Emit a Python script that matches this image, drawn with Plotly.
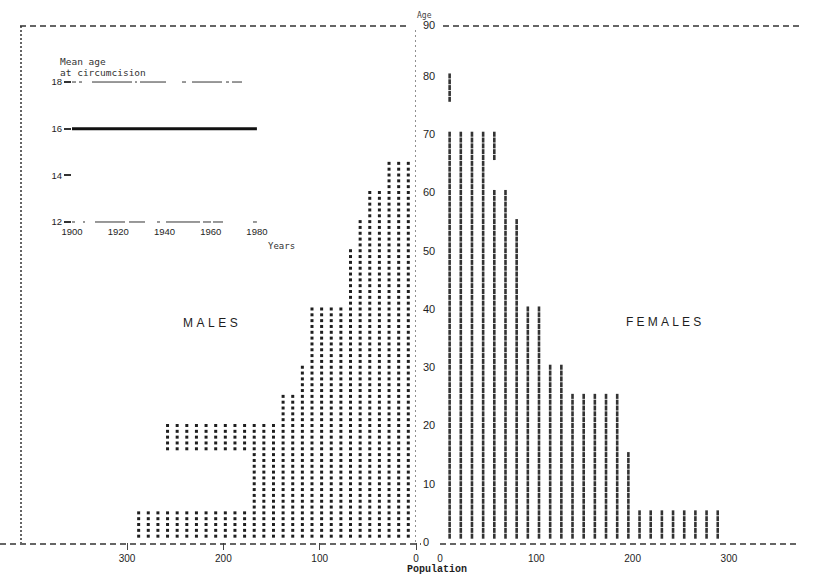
import plotly.graph_objects as go

# ---------------- data ----------------
group_start = [0, 5, 10, 15, 20, 25, 30, 35, 40, 45, 50, 55, 60, 65, 70, 75]
male_pop = [290, 170, 170, 260, 140, 120, 110, 110, 70, 70, 60, 50, 30, 0, 0, 0]
female_pop = [290, 200, 200, 195, 190, 130, 110, 105, 90, 90, 80, 70, 50, 65, 0, 20]

pop_ticks = [0, 100, 200, 300]
age_ticks = [0, 10, 20, 30, 40, 50, 60, 70, 80]
age_top_label = "90"

inset_years = [1900, 1920, 1940, 1960, 1980]
inset_mean_age = [16, 16, 16, 16, 16]
inset_age_ticks = [12, 14, 16, 18]

W, H = 832, 584
INK = "#1e1e1e"


def fx(px):
    return px / W


def fy(py):
    return 1 - py / H


# male dots: one row per single year of age, one dot per 10 persons
mx, my = [], []
for s, v in zip(group_start, male_pop):
    for a in range(s, s + 5):
        for k in range(1, v // 10 + 1):
            mx.append(10 * k - 2)
            my.append(a + 1)

# female strokes: one row per single year of age, printed columns of strokes
FSTEP = 11.6
fxs, fys = [], []
for s, v in zip(group_start, female_pop):
    for a in range(s, s + 5):
        k = 0
        while 10 + FSTEP * k <= v:
            fxs.append(10 + FSTEP * k)
            fys.append(a + 1)
            k += 1

fig = go.Figure()

fig.add_trace(go.Scatter(
    x=mx, y=my, mode="markers", xaxis="x", yaxis="y",
    marker=dict(symbol="square", size=3, color=INK, line=dict(width=0)),
    hoverinfo="skip",
))

fig.add_trace(go.Scatter(
    x=fxs, y=fys, mode="markers", xaxis="x2", yaxis="y",
    marker=dict(symbol="line-ns", size=3.6, color="#333",
                line=dict(color="#333", width=2.6)),
    hoverinfo="skip",
))

# inset: mean age at circumcision
fig.add_trace(go.Scatter(
    x=inset_years, y=inset_mean_age, mode="lines", xaxis="x3", yaxis="y3",
    line=dict(color="#111", width=3), hoverinfo="skip",
))

tick_font = dict(family="Liberation Sans", size=10, color=INK)
common = dict(showgrid=False, zeroline=False, showline=False, automargin=False,
              showspikes=False, mirror=False)

fig.update_layout(
    template="none",
    width=W, height=H,
    margin=dict(l=0, r=0, t=0, b=0, pad=0),
    paper_bgcolor="white", plot_bgcolor="white",
    showlegend=False,
    xaxis=dict(domain=[fx(20), fx(416)], range=[411.2, 0], anchor="y",
               tickvals=pop_ticks, ticktext=[str(t) for t in pop_ticks],
               ticks="outside", ticklen=7, tickwidth=1.2, tickcolor="#444",
               tickfont=tick_font, **common),
    xaxis2=dict(domain=[fx(440), fx(815)], range=[0, 389.4], anchor="y",
                tickvals=pop_ticks, ticktext=[str(t) for t in pop_ticks],
                ticks="outside", ticklen=7, tickcolor="rgba(0,0,0,0)",
                tickfont=tick_font, **common),
    yaxis=dict(domain=[fy(542), fy(25)], range=[0, 88.75], anchor="x", side="right",
               tickvals=age_ticks + [88.7],
               ticktext=[str(t) for t in age_ticks] + [age_top_label],
               ticks="", ticklabelstandoff=6,
               tickfont=dict(family="Liberation Sans", size=11, color=INK), **common),
    xaxis3=dict(domain=[fx(72), fx(262)], range=[1900, 1982.2], anchor="y3",
                tickvals=inset_years, ticktext=[str(t) for t in inset_years],
                ticks="", tickfont=dict(family="Liberation Sans", size=9.5, color=INK),
                **common),
    yaxis3=dict(domain=[fy(224), fy(72)], range=[11.914, 18.43], anchor="x3",
                tickvals=inset_age_ticks, ticktext=[str(t) for t in inset_age_ticks],
                ticks="outside", ticklen=7, tickwidth=1.5, tickcolor="#333",
                tickfont=dict(family="Liberation Sans", size=9.5, color=INK), **common),
)

frame = dict(color="#333", width=1.5)
shapes = [
    # top dashed frame line (broken around the "90" label)
    dict(type="line", xref="paper", yref="paper", x0=fx(20), x1=fx(410), y0=fy(26), y1=fy(26),
         line=dict(frame, dash="6px,4px")),
    dict(type="line", xref="paper", yref="paper", x0=fx(443), x1=fx(800), y0=fy(26), y1=fy(26),
         line=dict(frame, dash="6px,4px")),
    # left dotted border
    dict(type="line", xref="paper", yref="paper", x0=fx(21), x1=fx(21), y0=fy(26), y1=fy(543),
         line=dict(color="#333", width=1.5, dash="2px,2px")),
    # bottom dashed baseline
    dict(type="line", xref="paper", yref="paper", x0=0, x1=fx(421), y0=fy(544), y1=fy(544),
         line=dict(frame, dash="6px,4px")),
    dict(type="line", xref="paper", yref="paper", x0=fx(440), x1=fx(800), y0=fy(544), y1=fy(544),
         line=dict(frame, dash="6px,4px")),
    # dotted zero axes of both halves
    dict(type="line", xref="x", yref="paper", x0=0, x1=0, y0=fy(542), y1=fy(30),
         line=dict(color="#555", width=1.3, dash="2px,3px")),
    dict(type="line", xref="x2", yref="paper", x0=-3, x1=-3, y0=fy(552), y1=fy(28),
         line=dict(color="#333", width=1.5, dash="2px,2px")),
    # inset frame lines at 18 and 12
    dict(type="line", xref="x3", yref="y3", x0=1900, x1=1980, y0=18, y1=18,
         line=dict(color="#333", width=1, dash="4px,3px,3px,10px,40px,3px,2px,3px,26px,16px,4px,6px,30px")),
    dict(type="line", xref="x3", yref="y3", x0=1900, x1=1980, y0=12, y1=12,
         line=dict(color="#333", width=1, dash="3px,8px,2px,10px,30px,4px,16px,12px,3px,6px,34px")),
]
fig.update_layout(shapes=shapes)

ann_font_mono = dict(family="DejaVu Sans Mono", size=9.5, color="#333")
fig.add_annotation(x=fx(58), y=fy(62), xref="paper", yref="paper", xanchor="left", yanchor="middle",
                   text="Mean age", showarrow=False, font=ann_font_mono)
fig.add_annotation(x=fx(58), y=fy(72), xref="paper", yref="paper", xanchor="left", yanchor="middle",
                   text="at circumcision", showarrow=False, font=ann_font_mono)
fig.add_annotation(x=fx(266), y=fy(246), xref="paper", yref="paper",
                   text="Years", showarrow=False,
                   font=dict(family="DejaVu Sans Mono", size=9, color="#333"))
fig.add_annotation(x=fx(424), y=fy(9), xref="paper", yref="paper",
                   text="Age", showarrow=False,
                   font=dict(family="DejaVu Sans Mono", size=8, color="#444"))
fig.add_annotation(x=fx(437), y=fy(577), xref="paper", yref="paper",
                   text="<b>Population</b>", showarrow=False,
                   font=dict(family="Liberation Mono", size=10, color=INK))
fig.add_annotation(x=fx(181), y=fy(323), xref="paper", yref="paper",
                   text='<span style="letter-spacing:3.5px">MALES</span>', showarrow=False,
                   font=dict(family="Liberation Sans", size=12, color=INK))
fig.add_annotation(x=fx(706), y=fy(322), xref="paper", yref="paper",
                   text='<span style="letter-spacing:3.2px">FEMALES</span>', showarrow=False,
                   font=dict(family="Liberation Sans", size=12, color=INK))

fig.write_html("out.html",
               config={"displayModeBar": False},
               post_script="document.body.style.margin='0';document.body.style.overflow='hidden';")
